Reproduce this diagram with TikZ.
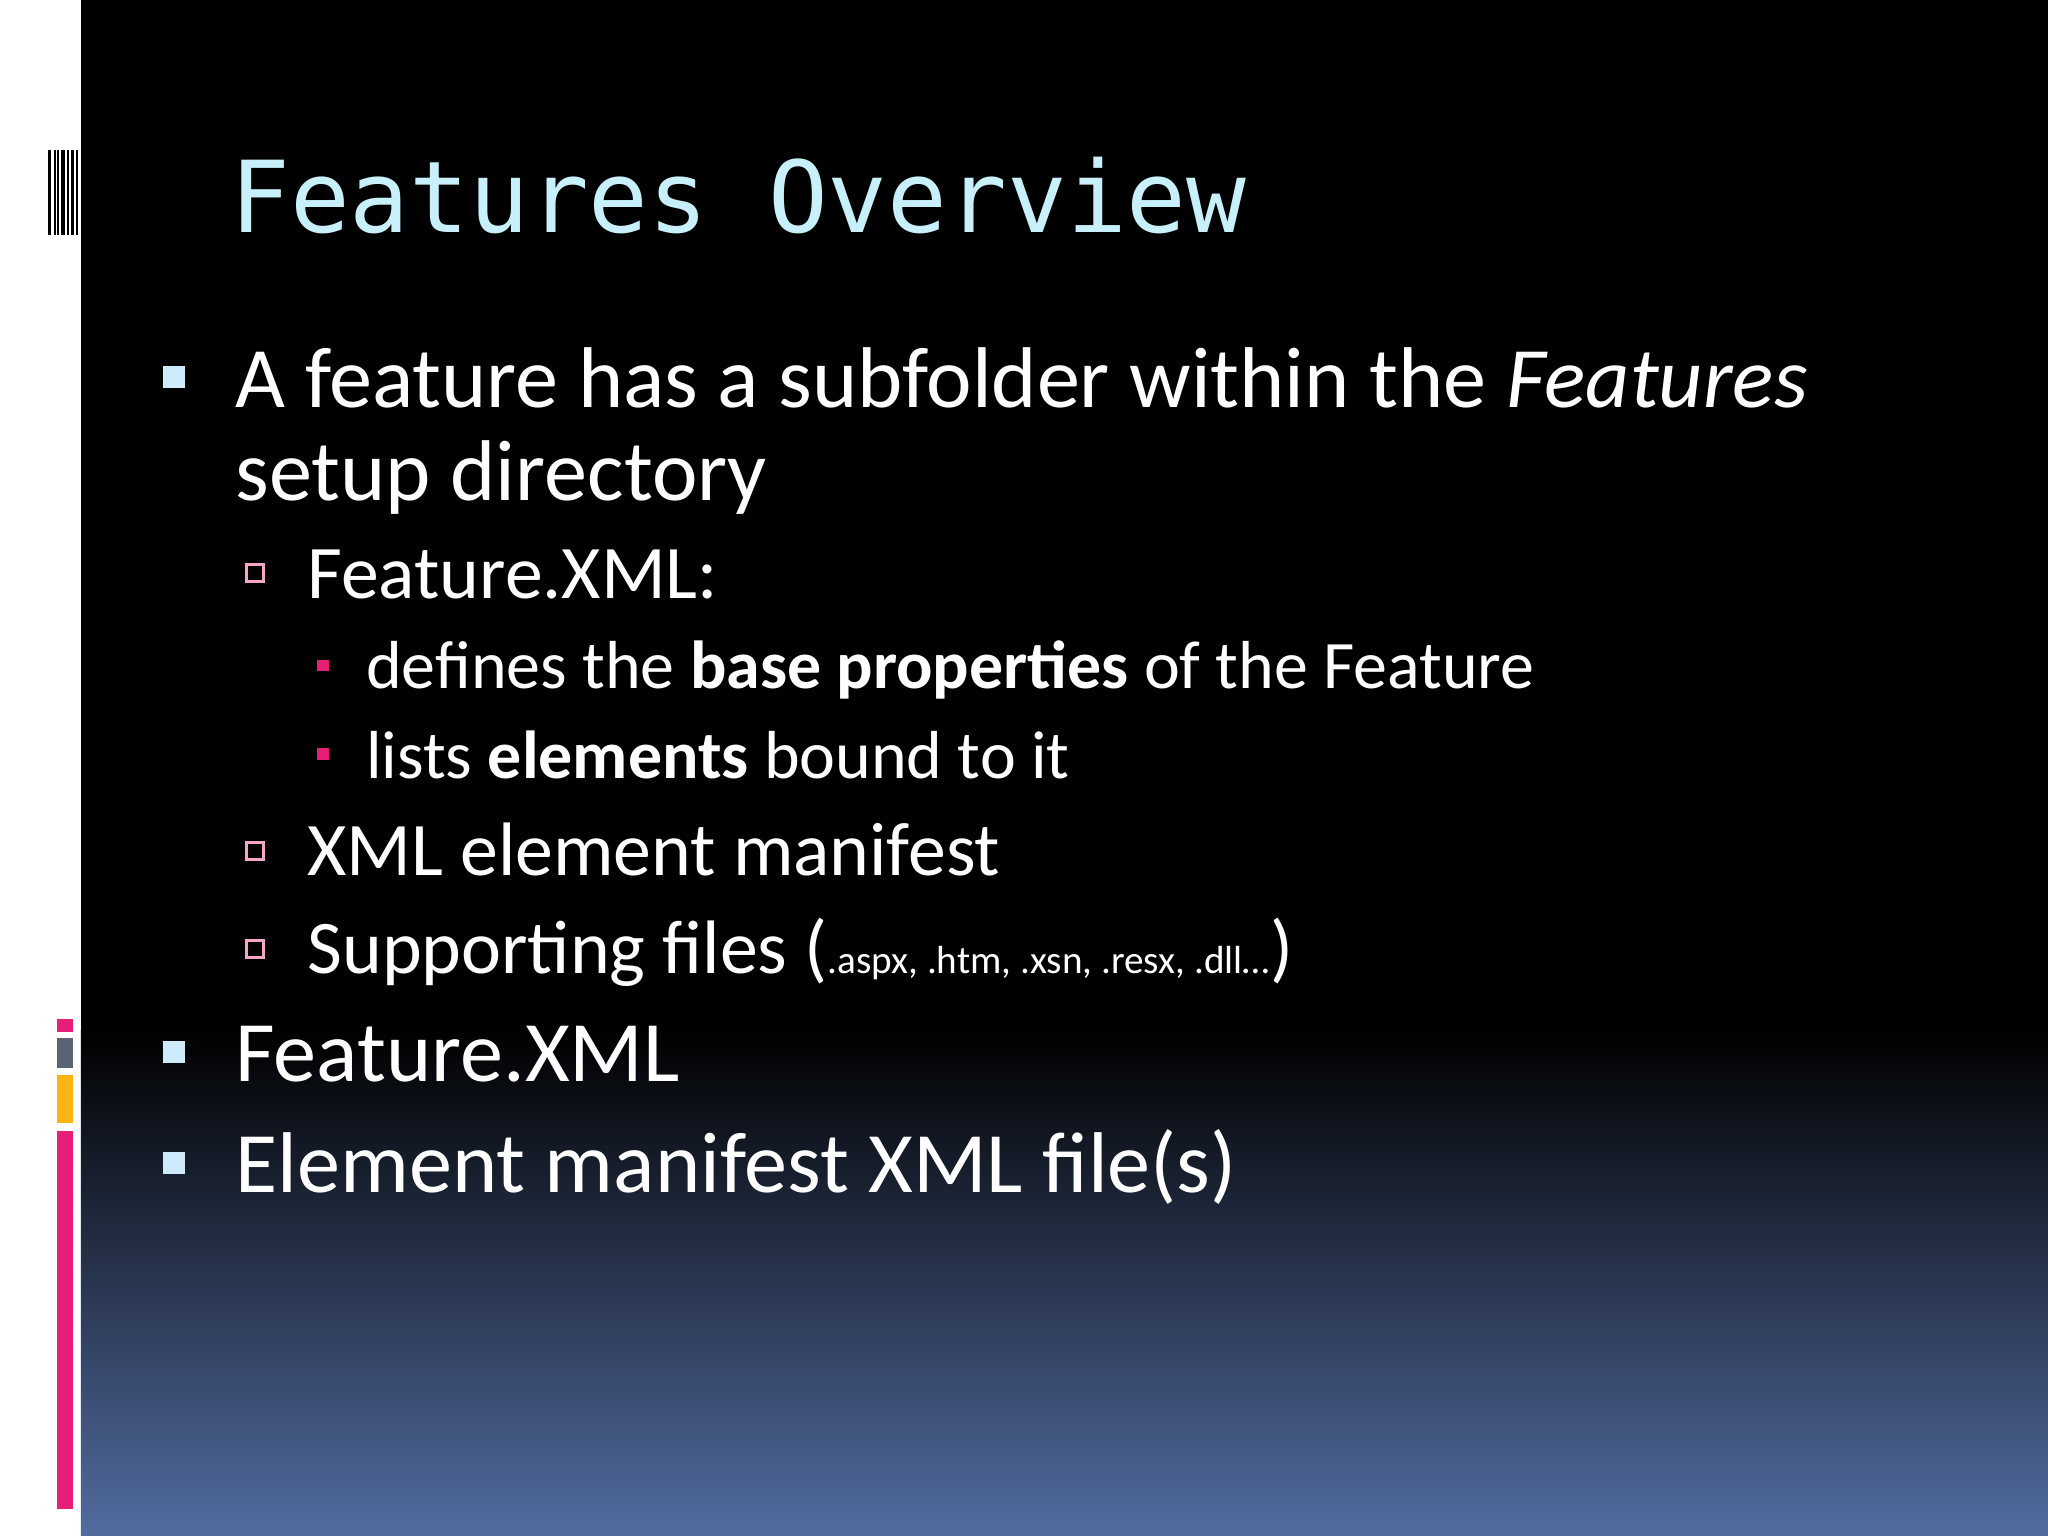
\documentclass[tikz,border=0pt]{standalone}
\usepackage{fontspec}
\setmainfont{Carlito}
\newfontfamily\titlefont{DejaVu Sans Mono}
\definecolor{titlec}{RGB}{200,240,250}
\definecolor{bulA}{RGB}{205,235,250}
\definecolor{pinkc}{RGB}{230,30,120}
\definecolor{grayc}{RGB}{90,100,115}
\definecolor{orangec}{RGB}{250,180,20}
\definecolor{botc}{RGB}{82,108,160}
\begin{document}
\begin{tikzpicture}[x=0.5pt,y=-0.5pt,
  txt/.style={anchor=base west,inner sep=0pt,text=white},
  lone/.style={txt,font=\fontsize{33}{38}\selectfont},
  ltwo/.style={txt,font=\fontsize{29}{33}\selectfont},
  lthree/.style={txt,font=\fontsize{26}{30}\selectfont}]
\useasboundingbox (0,0) rectangle (1568,1176);
\fill[white] (0,0) rectangle (62,1176);
\fill[black] (62,0) rectangle (1568,790);
\shade[top color=black,bottom color=botc] (62,789) rectangle (1568,1176);
% barcode
\foreach \x/\w in {37/2,41/1.5,44/1,47/2.5,51/1.5,54/3,58/2}
  \fill[black] (\x,115) rectangle ++(\w,65);
% side bars
\fill[pinkc] (44,780) rectangle (56,790);
\fill[grayc] (44,795) rectangle (56,818);
\fill[orangec] (44,823) rectangle (56,860);
\fill[pinkc] (44,866) rectangle (56,1155);
% title
\node[txt,text=titlec,font=\titlefont\fontsize{38}{40}\selectfont] (title) at (176,178) {Features Overview};
% level 1
\fill[bulA] (125,280) rectangle (142,297);
\node[lone] (a1) at (180,312) {A feature has a subfolder within the \textit{Features}};
\node[lone] (a2) at (180,383) {setup directory};
\draw[pinkc!40!white,line width=1.2pt] (189,432) rectangle (202,445);
\node[ltwo] (b1) at (235,458) {Feature.XML:};
\fill[pinkc] (243,505) rectangle (252,514);
\node[lthree] (c1) at (280,527) {defines the \textbf{base properties} of the Feature};
\fill[pinkc] (243,573) rectangle (252,582);
\node[lthree] (c2) at (280,596) {lists \textbf{elements} bound to it};
\draw[pinkc!40!white,line width=1.2pt] (189,645) rectangle (202,658);
\node[ltwo] (b2) at (235,670) {XML element manifest};
\draw[pinkc!40!white,line width=1.2pt] (189,720) rectangle (202,733);
\node[ltwo] (b3) at (235,745) {Supporting files ({\fontsize{15}{17}\selectfont.aspx, .htm, .xsn, .resx, .dll\dots})};
\fill[bulA] (125,797) rectangle (142,814);
\node[lone] (a3) at (180,828) {Feature.XML};
\fill[bulA] (125,882) rectangle (142,899);
\node[lone] (a4) at (180,913) {Element manifest XML file(s)};
\end{tikzpicture}
\end{document}
